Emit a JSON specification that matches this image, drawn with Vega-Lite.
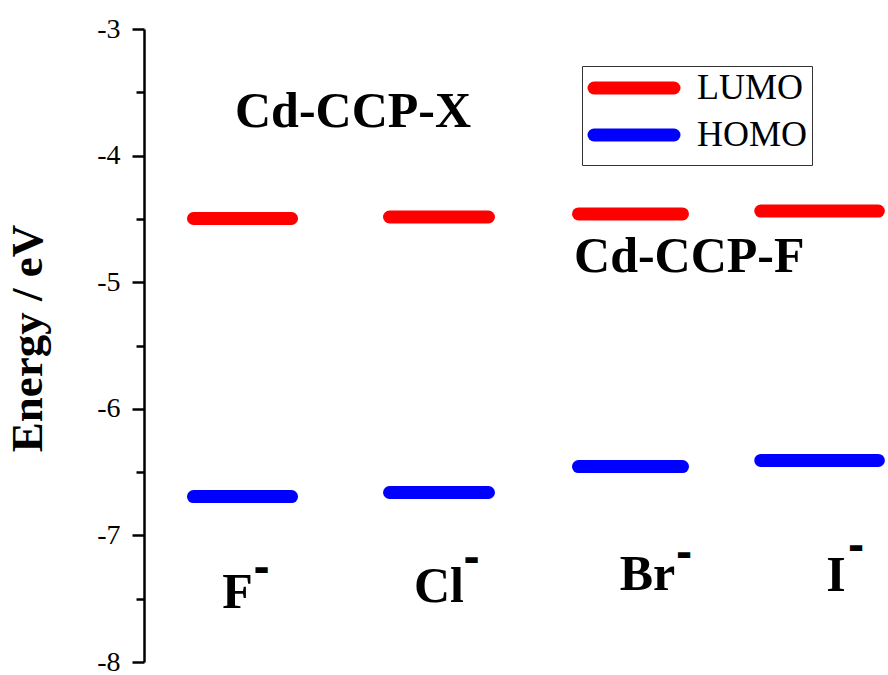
{
  "$schema": "https://vega.github.io/schema/vega-lite/v6.json",
  "width": 744,
  "height": 633,
  "autosize": {"type": "none"},
  "padding": {"left": 144, "top": 29, "right": 0, "bottom": 13},
  "background": "white",
  "config": {"view": {"stroke": null}, "font": "Liberation Serif"},
  "layer": [
    {
      "data": {"values": [
        {"orbital": "LUMO", "ion": "F", "x": 0.665, "xEnd": 1.983, "energy": -4.497},
        {"orbital": "LUMO", "ion": "Cl", "x": 3.300, "xEnd": 4.630, "energy": -4.485},
        {"orbital": "LUMO", "ion": "Br", "x": 5.840, "xEnd": 7.238, "energy": -4.461},
        {"orbital": "LUMO", "ion": "I", "x": 8.290, "xEnd": 9.870, "energy": -4.438},
        {"orbital": "HOMO", "ion": "F", "x": 0.665, "xEnd": 1.983, "energy": -6.693},
        {"orbital": "HOMO", "ion": "Cl", "x": 3.300, "xEnd": 4.630, "energy": -6.661},
        {"orbital": "HOMO", "ion": "Br", "x": 5.840, "xEnd": 7.238, "energy": -6.456},
        {"orbital": "HOMO", "ion": "I", "x": 8.290, "xEnd": 9.870, "energy": -6.408}
      ]},
      "mark": {"type": "rule", "strokeWidth": 13, "strokeCap": "round"},
      "encoding": {
        "x": {"field": "x", "type": "quantitative", "scale": {"domain": [0, 10], "nice": false, "zero": false}, "axis": null},
        "x2": {"field": "xEnd"},
        "y": {
          "field": "energy", "type": "quantitative",
          "scale": {"domain": [-8, -3], "nice": false, "zero": false},
          "axis": {
            "values": [-8, -7.5, -7, -6.5, -6, -5.5, -5, -4.5, -4, -3.5, -3],
            "labelExpr": "datum.value % 1 === 0 ? '' + datum.value : ''",
            "grid": false,
            "domain": true, "domainColor": "black", "domainWidth": 2.5,
            "ticks": true, "tickColor": "black", "tickWidth": 2.5,
            "tickSize": {"condition": {"test": "datum.value % 1 === 0", "value": 12}, "value": 8},
            "labelFontSize": 28, "labelFont": "Liberation Serif", "labelColor": "black", "labelPadding": 12,
            "title": "Energy / eV", "titleFontSize": 45, "titleFontWeight": "bold", "titleFont": "Liberation Serif",
            "titleColor": "black", "titleX": -103, "titleY": 309, "titleAngle": -90,
            "titleBaseline": "alphabetic", "titleAlign": "center"
          }
        },
        "color": {
          "field": "orbital", "type": "nominal",
          "scale": {"domain": ["LUMO", "HOMO"], "range": ["#ff0000", "#0000ff"]},
          "legend": {
            "orient": "none", "legendX": 438, "legendY": 37, "title": null,
            "symbolType": "M-1,0H7", "symbolSize": 400, "symbolStrokeWidth": 13,
            "labelFontSize": 36, "labelFont": "Liberation Serif", "labelColor": "black",
            "strokeColor": "#333", "padding": 4, "rowPadding": -5, "labelOffset": 75,
            "encode": {"symbols": {"update": {"strokeCap": {"value": "round"}}}}
          }
        }
      }
    },
    {
      "data": {"values": [
        {"label": "F", "x": 1.257, "energy": -7.573},
        {"label": "Cl", "x": 3.965, "energy": -7.526},
        {"label": "Br", "x": 6.767, "energy": -7.431},
        {"label": "I", "x": 9.301, "energy": -7.44}
      ]},
      "mark": {"type": "text", "fontSize": 50, "fontWeight": "bold", "font": "Liberation Serif", "align": "center", "baseline": "alphabetic", "color": "black"},
      "encoding": {
        "x": {"field": "x", "type": "quantitative"},
        "y": {"field": "energy", "type": "quantitative"},
        "text": {"field": "label"}
      }
    },
    {
      "data": {"values": [
        {"label": "-", "x": 1.579, "energy": -7.368},
        {"label": "-", "x": 4.402, "energy": -7.289},
        {"label": "-", "x": 7.258, "energy": -7.250},
        {"label": "-", "x": 9.570, "energy": -7.194}
      ]},
      "mark": {"type": "text", "fontSize": 40, "fontWeight": "bold", "font": "DejaVu Sans", "align": "center", "baseline": "alphabetic", "color": "black"},
      "encoding": {
        "x": {"field": "x", "type": "quantitative"},
        "y": {"field": "energy", "type": "quantitative"},
        "text": {"field": "label"}
      }
    },
    {
      "data": {"values": [
        {"label": "Cd-CCP-X", "x": 1.223, "energy": -3.774},
        {"label": "Cd-CCP-F", "x": 5.780, "energy": -4.919}
      ]},
      "mark": {"type": "text", "fontSize": 50, "fontWeight": "bold", "font": "Liberation Serif", "align": "left", "baseline": "alphabetic", "color": "black"},
      "encoding": {
        "x": {"field": "x", "type": "quantitative"},
        "y": {"field": "energy", "type": "quantitative"},
        "text": {"field": "label"}
      }
    }
  ]
}
